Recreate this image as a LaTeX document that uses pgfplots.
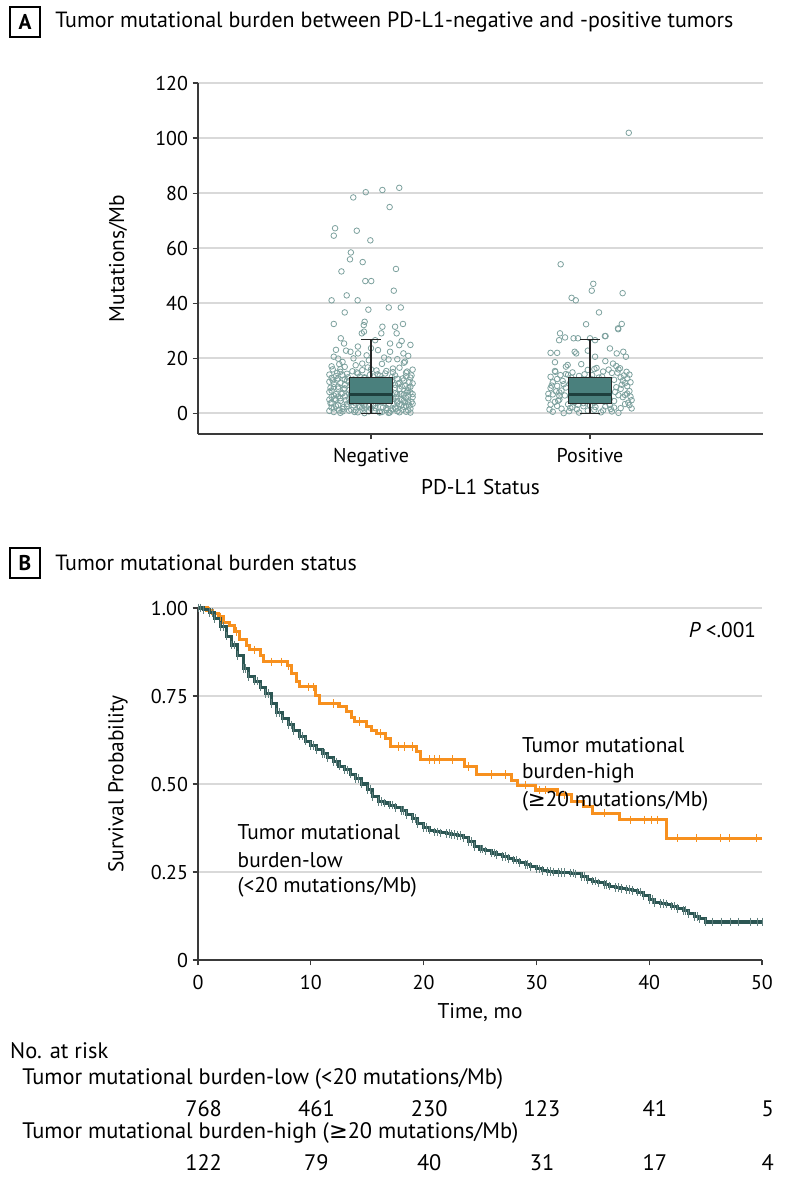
\documentclass[border=0pt]{standalone}
\usepackage{fontspec}
\setmainfont{PT Sans}
\newfontfamily\dv{DejaVu Sans}
\usepackage{pgfplots}
\pgfplotsset{compat=1.18}
\usepackage{pgfplotstable}
\usepgfplotslibrary{statistics}
\definecolor{teal1}{HTML}{2B5653}
\definecolor{orng}{HTML}{F7901E}
\definecolor{ptc}{HTML}{7DA19E}
\definecolor{boxf}{HTML}{4A807D}
\definecolor{medc}{HTML}{1E3F3D}
\definecolor{gridc}{HTML}{D9D9D9}
\definecolor{axc}{HTML}{3A3A3A}
\newcommand\ff{\fontsize{16}{19}\selectfont}
\newcommand\hf{\fontsize{16.5}{19.5}\selectfont}
\newcommand\rf{\fontsize{16.8}{20}\selectfont}
\newcommand\tf{\fontsize{15}{18}\selectfont}

\pgfplotstableread{
t S
0 1.000
0.5 0.995
1.0 0.987
1.5 0.970
2.0 0.948
2.5 0.920
3.0 0.895
3.5 0.865
4.0 0.828
4.5 0.806
5.0 0.792
5.5 0.775
6.0 0.757
6.5 0.728
7.0 0.703
7.5 0.685
8.0 0.668
8.5 0.652
9.0 0.636
9.5 0.622
10.0 0.610
10.5 0.597
11.0 0.586
11.5 0.574
12.0 0.563
12.5 0.551
13.0 0.540
13.5 0.528
14.0 0.515
14.5 0.500
15.0 0.484
15.5 0.465
16.0 0.450
16.5 0.446
17.0 0.440
17.5 0.433
18.0 0.424
18.5 0.414
19.0 0.402
19.5 0.388
20.0 0.376
20.5 0.369
21.0 0.364
21.5 0.361
22.0 0.359
22.5 0.356
23.0 0.353
23.5 0.347
24.0 0.336
24.5 0.322
25.0 0.315
25.5 0.310
26.0 0.304
26.5 0.299
27.0 0.294
27.5 0.289
28.0 0.284
28.5 0.277
29.0 0.271
29.5 0.265
30.0 0.259
30.5 0.255
31.0 0.252
31.5 0.250
32.0 0.249
32.5 0.248
33.0 0.247
33.5 0.245
34.0 0.238
34.5 0.229
35.0 0.224
35.5 0.219
36.0 0.214
36.5 0.210
37.0 0.206
37.5 0.203
38.0 0.200
38.5 0.197
39.0 0.193
39.5 0.184
40.0 0.172
40.5 0.163
41.0 0.161
41.5 0.159
42.0 0.153
42.5 0.146
43.0 0.140
43.5 0.131
44.0 0.124
44.5 0.117
45.0 0.108
50.0 0.108
}\lowtab

\pgfplotstableread{
t S
0 1.000
0.8 0.992
1.3 0.984
1.8 0.975
2.3 0.959
2.8 0.951
3.2 0.934
3.7 0.910
4.3 0.893
4.6 0.881
5.5 0.864
5.8 0.847
7.9 0.836
8.3 0.815
8.75 0.790
9.0 0.776
10.4 0.752
10.8 0.729
12.5 0.719
13.2 0.705
13.6 0.690
13.9 0.677
14.9 0.663
15.4 0.652
15.8 0.644
16.6 0.630
17.1 0.606
19.4 0.592
19.7 0.570
23.6 0.549
24.7 0.527
27.8 0.511
28.3 0.497
29.9 0.483
31.9 0.469
33.1 0.450
34.2 0.436
35.0 0.417
37.4 0.398
41.5 0.346
50 0.346
}\hightab

\begin{document}
\begin{tikzpicture}
\useasboundingbox (0,0) rectangle (595.5pt,-889.5pt);

% ---------- Panel A header
\node[draw=black, line width=0.8pt, minimum size=22.5pt, inner sep=0pt, font=\ff\bfseries] at (18.75pt,-16.5pt) {A};
\node[anchor=west, font=\hf, inner sep=0pt] at (41.25pt,-16.5pt) {Tumor mutational burden between PD-L1-negative and -positive tumors};

\begin{axis}[
  at={(148.5pt,-325.5pt)}, anchor=south west,
  scale only axis, width=423.75pt, height=263.25pt,
  xmin=0.21, xmax=2.79, ymin=-7.6, ymax=120,
  axis x line*=bottom, axis y line*=left,
  xtick={1,2}, xticklabels={Negative,Positive},
  ytick={0,20,40,60,80,100,120},
  ymajorgrids, grid style={gridc, line width=1.1pt},
  tick align=outside, major tick length=4pt,
  axis line style={axc, line width=0.8pt},
  tick style={axc, line width=0.8pt},
  tick label style={font=\tf},
  xticklabel style={yshift=-3pt},
  label style={font=\ff},
  xlabel={PD-L1 Status}, ylabel={Mutations/Mb},
  xlabel style={at={(axis description cs:0.5,-0.151)}, anchor=center},
  ylabel style={at={(axis description cs:-0.1416,0.5)}, anchor=center},
  /pgf/number format/assume math mode=true,
  boxplot/draw direction=y,
  clip mode=individual,
  clip=false,
]
% Negative group points
\addplot[only marks, mark=o, mark size=2.1pt, mark options={draw=ptc, line width=0.6pt}] coordinates {
(0.83,0.4) (0.91,1.2) (1.04,0.2) (1.15,2.3) (0.97,3.1) (1.09,0.9) (0.86,4.4) (1.18,1.6) (0.94,5.2) (1.02,2.6)
(0.88,6.1) (1.12,3.8) (0.82,2.0) (1.06,7.3) (0.99,0.6) (1.16,5.5) (0.90,8.4) (1.01,4.9) (0.85,9.6) (1.13,0.3)
(0.95,11.2) (1.08,6.8) (0.81,7.7) (1.17,9.1) (0.92,2.8) (1.05,12.4) (0.87,1.5) (1.11,10.3) (0.98,8.0) (1.19,3.4)
(0.84,13.5) (1.03,14.1) (1.14,7.0) (0.89,11.8) (1.07,1.1) (0.96,15.6) (1.18,12.9) (0.82,5.9) (1.00,6.5) (1.10,16.2)
(0.93,17.4) (0.86,0.1) (1.16,14.7) (1.04,9.8) (0.91,4.0) (1.12,0.7) (0.83,10.6) (1.06,3.6) (0.97,13.0) (1.15,18.3)
(0.88,16.8) (1.01,11.1) (0.81,14.0) (1.09,5.1) (0.94,7.9) (1.17,6.3) (0.85,3.0) (1.13,8.8) (0.99,19.2) (1.07,15.3)
(0.90,0.9) (1.19,10.8) (0.87,18.6) (1.02,1.8) (1.14,2.9) (0.95,9.3) (1.05,17.9) (0.82,8.2) (1.11,13.7) (0.98,4.6)
(0.84,6.9) (1.08,19.5) (0.92,12.2) (1.16,0.5) (1.00,10.1) (0.89,2.4) (1.12,4.3) (0.96,6.0) (1.18,7.5) (0.86,15.0)
(1.03,5.7) (0.81,11.4) (1.10,1.4) (0.93,3.5) (1.15,11.9) (0.88,9.0) (1.06,8.6) (0.97,0.0) (1.13,16.5) (0.83,1.7)
(1.01,13.3) (0.91,6.6) (1.17,3.9) (0.85,12.6) (1.09,10.0) (0.95,2.2) (1.04,4.1) (0.87,7.2) (1.19,5.8) (0.99,9.5)
(0.82,17.0) (1.07,12.0) (0.94,14.4) (1.14,9.7) (0.90,5.3) (1.11,2.0) (0.86,10.9) (1.02,7.8) (1.16,13.4) (0.97,1.3)
(0.89,3.3) (1.05,0.4) (0.83,6.4) (1.12,6.9) (0.98,11.7) (1.18,0.2) (0.92,9.9) (1.08,3.2) (0.84,4.8) (1.00,15.9)
(1.15,4.5) (0.87,13.8) (1.03,10.5) (0.95,7.4) (1.10,14.9) (0.81,0.8) (1.06,5.0) (0.93,1.0) (1.17,8.3) (0.88,12.3)
(1.01,2.9) (1.13,11.0) (0.85,8.9) (0.96,18.0) (1.19,15.8) (0.90,7.1) (1.04,13.6) (0.82,3.7) (1.09,7.6) (0.98,5.6)
(0.86,5.4) (1.11,9.2) (0.94,0.3) (1.16,2.6) (0.91,10.4) (1.07,1.9) (0.84,2.5) (1.02,8.1) (1.14,4.7) (0.99,3.0)
(0.83,9.4) (1.05,6.2) (0.97,12.7) (1.18,9.6) (0.89,14.3) (1.12,12.5) (0.93,6.7) (1.08,0.1) (0.87,0.6) (1.00,1.6)
(1.15,6.7) (0.92,4.2) (1.03,3.8) (0.81,4.9) (1.10,5.2) (0.95,13.2) (1.17,1.0) (0.88,10.2) (1.06,11.5) (0.85,6.0)
(0.96,2.0) (1.13,3.3) (0.90,11.6) (1.04,0.5) (1.19,6.9) (0.82,12.8) (1.01,9.0) (0.94,8.5) (1.11,7.2) (0.86,16.0)
(0.815,3.6) (0.875,8.7) (0.935,10.8) (0.995,13.9) (1.055,2.1) (1.115,5.9) (1.175,11.3) (0.845,14.6) (0.905,6.3) (0.965,4.3)
(1.025,12.1) (1.085,8.9) (1.145,1.2) (1.185,4.1) (0.855,1.0) (0.915,15.2) (0.975,9.8) (1.035,6.0) (1.095,13.1) (1.155,9.9)
(0.825,11.9) (0.885,4.7) (0.945,2.6) (1.005,7.3) (1.065,14.4) (1.125,10.6) (1.175,2.8) (0.865,7.0) (0.925,0.4) (0.985,16.6)
(1.045,8.3) (1.105,3.4) (1.165,15.1) (0.835,5.2) (0.895,13.0) (0.955,11.1) (1.015,0.9) (1.075,4.8) (1.135,6.9) (1.185,13.7)
(0.815,9.2) (0.875,2.2) (0.935,14.8) (0.995,5.5) (1.055,10.9) (1.115,1.6) (1.165,7.8) (0.845,12.2) (0.905,3.9) (0.965,7.7)
(1.025,15.5) (1.085,0.2) (1.145,12.6) (0.855,17.8) (0.915,9.0) (0.975,2.4) (1.035,4.4) (1.095,11.6) (1.155,4.0) (0.825,15.9)
(0.919,78.4) (0.976,80.3) (1.052,81.1) (1.129,81.9) (1.085,74.9) (0.836,67.2) (0.830,64.5) (0.935,66.3)
(0.997,62.8) (0.908,58.4) (0.904,55.9) (0.962,54.9) (0.865,51.5) (1.114,52.4) (0.974,48.0) (1.001,48.0)
(1.104,44.5) (0.889,42.8) (0.820,41.0) (0.939,41.0) (1.081,38.4) (1.136,38.4) (0.880,36.6) (0.988,37.6)
(0.830,32.4) (0.971,33.2) (1.146,32.4) (0.862,27.2) (0.877,25.3) (0.886,22.7) (0.967,32.0) (0.968,29.6)
(1.052,31.4) (1.110,31.4) (1.047,29.0) (1.117,29.0) (1.140,26.2) (1.087,25.3) (1.129,24.7) (0.958,29.0)
(1.019,26.5) (0.906,22.3) (0.941,21.7) (1.032,22.9) (1.087,22.3) (1.148,21.7) (1.155,18.7) (0.83,20.5)
(0.85,19.8) (0.98,21.0) (1.06,20.2) (1.17,20.8) (0.92,19.9) (1.12,19.6) (0.94,24.2) (1.00,23.6) (0.84,23.0) (1.18,24.8)
};
% Positive group points
\addplot[only marks, mark=o, mark size=2.1pt, mark options={draw=ptc, line width=0.6pt}] coordinates {
(1.83,0.5) (1.92,2.1) (2.05,0.3) (2.14,1.8) (1.97,3.6) (2.09,5.0) (1.86,6.2) (2.18,2.9) (1.94,7.7) (2.02,1.2)
(1.89,9.3) (2.11,4.4) (1.82,3.1) (2.06,8.1) (1.99,0.9) (2.16,6.6) (1.91,11.0) (2.01,5.6) (1.85,12.4) (2.13,0.1)
(1.95,13.5) (2.08,10.2) (1.81,7.0) (2.17,9.8) (1.93,4.0) (2.04,12.9) (1.87,1.6) (2.10,14.6) (1.98,6.9) (2.19,4.7)
(1.84,15.3) (2.03,16.4) (2.15,11.8) (1.90,13.9) (2.07,2.4) (1.96,17.8) (2.18,14.0) (1.82,9.1) (2.00,8.4) (2.12,17.1)
(1.88,0.0) (2.05,5.3) (1.93,10.7) (2.16,3.3) (1.86,4.9) (2.09,7.4) (1.99,15.7) (2.14,8.8) (1.83,11.2) (2.02,3.8)
(1.91,6.0) (2.11,12.1) (1.85,2.6) (2.06,1.0) (1.97,9.6) (2.17,7.1) (1.89,16.9) (2.04,10.0) (1.81,5.4) (2.13,15.9)
(1.94,1.4) (2.08,6.3) (1.87,8.2) (2.19,1.7) (2.00,2.8) (1.92,14.8) (2.10,0.6) (1.84,18.5) (2.15,5.8) (1.96,12.0)
(2.03,7.9) (1.82,13.2) (2.12,9.4) (1.90,3.2) (2.07,18.9) (1.98,4.3) (2.16,10.9) (1.86,7.5) (2.01,13.8) (2.18,8.0)
(1.88,10.5) (2.05,11.4) (1.95,0.2) (2.14,13.0) (1.83,6.8) (2.09,3.0) (1.93,5.7) (2.11,2.0) (1.85,9.9) (2.02,16.0)
(1.99,11.6) (2.17,12.7) (1.91,1.9) (2.06,15.1) (1.84,4.1) (2.13,6.5) (1.97,2.5) (2.08,9.0) (1.89,14.2) (2.04,4.6)
(1.815,1.3) (1.875,11.7) (1.935,8.6) (1.995,5.1) (2.055,13.3) (2.115,7.7) (2.175,3.8) (1.845,7.9) (1.905,0.7) (1.965,10.6)
(2.025,2.2) (2.085,15.8) (2.145,10.3) (2.185,11.2) (1.855,4.5) (1.915,12.9) (1.975,14.1) (2.035,6.7) (2.095,1.5) (2.155,13.7)
(1.825,10.0) (1.885,6.4) (1.945,3.0) (2.005,12.4) (2.065,4.2) (2.125,14.7) (2.185,6.0) (1.865,13.8) (1.925,5.2) (1.985,8.9)
(2.177,101.9) (1.866,54.1) (2.015,47.0) (2.008,44.5) (2.149,43.6) (1.916,41.9) (1.935,41.0) (2.041,36.6)
(1.982,32.3) (2.145,32.4) (2.129,30.5) (1.863,29.0) (1.886,27.5) (2.068,28.0) (2.000,27.2) (1.859,26.5)
(1.925,27.2) (1.945,27.2) (2.023,26.5) (2.071,28.0) (2.128,30.8) (1.820,21.9) (1.850,21.9) (1.930,22.3)
(1.937,21.7) (1.990,22.7) (2.091,23.5) (2.122,21.7) (2.152,22.3) (2.164,20.5) (2.023,20.5) (1.898,17.5)
(2.105,18.0) (2.137,16.3) (2.167,15.0) (1.842,15.0)
};
% Box plots
\addplot[boxplot prepared={draw position=1, median=6.9, upper quartile=13.1, lower quartile=3.6,
  upper whisker=26.9, lower whisker=0, box extend=0.2, whisker extend=0.09},
  fill=boxf, draw=black!85, line width=0.8pt,
  boxplot/every median/.style={draw=medc, line width=2.4pt}] coordinates {};
\addplot[boxplot prepared={draw position=2, median=6.9, upper quartile=13.1, lower quartile=3.6,
  upper whisker=26.9, lower whisker=0, box extend=0.2, whisker extend=0.09},
  fill=boxf, draw=black!85, line width=0.8pt,
  boxplot/every median/.style={draw=medc, line width=2.4pt}] coordinates {};
\end{axis}

% ---------- Panel B header
\node[draw=black, line width=0.8pt, minimum size=22.5pt, inner sep=0pt, font=\ff\bfseries] at (18.75pt,-422.25pt) {B};
\node[anchor=west, font=\hf, inner sep=0pt] at (41.25pt,-422.25pt) {Tumor mutational burden status};

\begin{axis}[
  at={(148.5pt,-720pt)}, anchor=south west,
  scale only axis, width=423pt, height=264pt,
  xmin=0, xmax=50, ymin=0, ymax=1,
  axis x line*=bottom, axis y line*=left,
  xtick={0,10,20,30,40,50},
  ytick={0,0.25,0.5,0.75,1}, yticklabels={0,0.25,0.50,0.75,1.00},
  ymajorgrids, grid style={gridc, line width=1.1pt},
  tick align=outside, major tick length=4pt,
  axis line style={axc, line width=0.8pt},
  tick style={axc, line width=0.8pt},
  tick label style={font=\tf},
  xticklabel style={yshift=-4pt},
  label style={font=\ff},
  xlabel={Time, mo}, ylabel={Survival Probability},
  xlabel style={at={(axis description cs:0.5,-0.1506)}, anchor=center},
  ylabel style={at={(axis description cs:-0.1418,0.5)}, anchor=center},
  /pgf/number format/assume math mode=true,
  clip=false,
]
\addplot[const plot, orng, line width=2.3pt, mark=none] table {\hightab};
\addplot[only marks, mark=|, mark size=3.2pt, mark options={draw=orng, line width=0.7pt}] coordinates {
(1.0,0.992) (2.0,0.975) (3.4,0.934) (5.0,0.881) (6.5,0.847) (7.4,0.847) (8.0,0.836) (9.8,0.776) (10.2,0.776)
(12.0,0.729) (14.3,0.677) (16.2,0.644) (17.8,0.606) (18.3,0.606) (19.0,0.606) (20.5,0.570) (21.0,0.570)
(21.4,0.570) (22.6,0.570) (24.0,0.549) (26.0,0.527) (27.3,0.527) (29.0,0.497) (30.3,0.483) (30.8,0.483)
(32.5,0.469) (36.0,0.417) (38.3,0.398) (39.6,0.398) (40.2,0.398) (40.7,0.398) (42.5,0.346) (44.2,0.346)
(46.3,0.346) (47.1,0.346) (49.5,0.346)
};
\addplot[const plot, teal1, line width=2.3pt, mark=|, mark size=3.2pt, mark options={draw=teal1!75, line width=0.7pt}] table {\lowtab};
\addplot[only marks, mark=|, mark size=3.2pt, mark options={draw=teal1!75, line width=0.7pt}] coordinates {
(0.25,1.000) (1.25,0.987) (2.25,0.948) (3.25,0.895) (4.25,0.828) (5.25,0.792) (6.25,0.757) (7.25,0.703)
(8.25,0.668) (9.25,0.636) (10.25,0.610) (11.25,0.586) (12.25,0.563) (13.25,0.540) (14.25,0.515) (15.25,0.484)
(16.25,0.450) (17.25,0.440) (18.25,0.424) (19.25,0.402) (20.25,0.376) (21.25,0.364) (22.25,0.359) (22.75,0.356)
(23.25,0.353) (24.25,0.336) (25.25,0.315) (26.25,0.304) (27.25,0.294) (28.25,0.284) (29.25,0.271) (30.25,0.259)
(31.25,0.252) (32.25,0.249) (33.25,0.247) (34.25,0.238) (35.25,0.224) (36.25,0.214) (37.25,0.206) (38.25,0.200)
(39.25,0.193) (40.25,0.172) (41.25,0.161) (42.25,0.153) (43.25,0.140) (44.25,0.124)
(45.6,0.108) (46.4,0.108) (47.2,0.108) (47.9,0.108) (49.0,0.108) (49.6,0.108)
};
\node[anchor=east, font=\ff, inner sep=0pt] at (axis cs:49.5,0.9375) {\itshape P\upshape\ <.001};
\node[anchor=west, font=\ff, inner sep=0pt] at (axis cs:28.7,0.611) {Tumor mutational};
\node[anchor=west, font=\ff, inner sep=0pt] at (axis cs:28.7,0.531) {burden-high};
\node[anchor=west, font=\ff, inner sep=0pt] at (axis cs:28.7,0.452) {({\dv ≥}20 mutations/Mb)};
\node[anchor=west, font=\ff, inner sep=0pt] at (axis cs:3.5,0.364) {Tumor mutational};
\node[anchor=west, font=\ff, inner sep=0pt] at (axis cs:3.5,0.284) {burden-low};
\node[anchor=west, font=\ff, inner sep=0pt] at (axis cs:3.5,0.207) {(<20 mutations/Mb)};
% Number at risk
\node[anchor=west, font=\rf, inner sep=0pt] at (axis cs:-16.67,-0.2585) {No. at risk};
\node[anchor=west, font=\rf, inner sep=0pt] at (axis cs:-15.6,-0.338) {Tumor mutational burden-low (<20 mutations/Mb)};
\node[anchor=west, font=\rf, inner sep=0pt] at (axis cs:-15.6,-0.491) {Tumor mutational burden-high ({\dv ≥}20 mutations/Mb)};
\node[font=\rf, inner sep=0pt] at (axis cs:0.5,-0.4233) {768};
\node[font=\rf, inner sep=0pt] at (axis cs:10.5,-0.4233) {461};
\node[font=\rf, inner sep=0pt] at (axis cs:20.5,-0.4233) {230};
\node[font=\rf, inner sep=0pt] at (axis cs:30.5,-0.4233) {123};
\node[font=\rf, inner sep=0pt] at (axis cs:40.5,-0.4233) {41};
\node[font=\rf, inner sep=0pt] at (axis cs:50.5,-0.4233) {5};
\node[font=\rf, inner sep=0pt] at (axis cs:0.5,-0.5767) {122};
\node[font=\rf, inner sep=0pt] at (axis cs:10.5,-0.5767) {79};
\node[font=\rf, inner sep=0pt] at (axis cs:20.5,-0.5767) {40};
\node[font=\rf, inner sep=0pt] at (axis cs:30.5,-0.5767) {31};
\node[font=\rf, inner sep=0pt] at (axis cs:40.5,-0.5767) {17};
\node[font=\rf, inner sep=0pt] at (axis cs:50.5,-0.5767) {4};
\end{axis}
\end{tikzpicture}
\end{document}
